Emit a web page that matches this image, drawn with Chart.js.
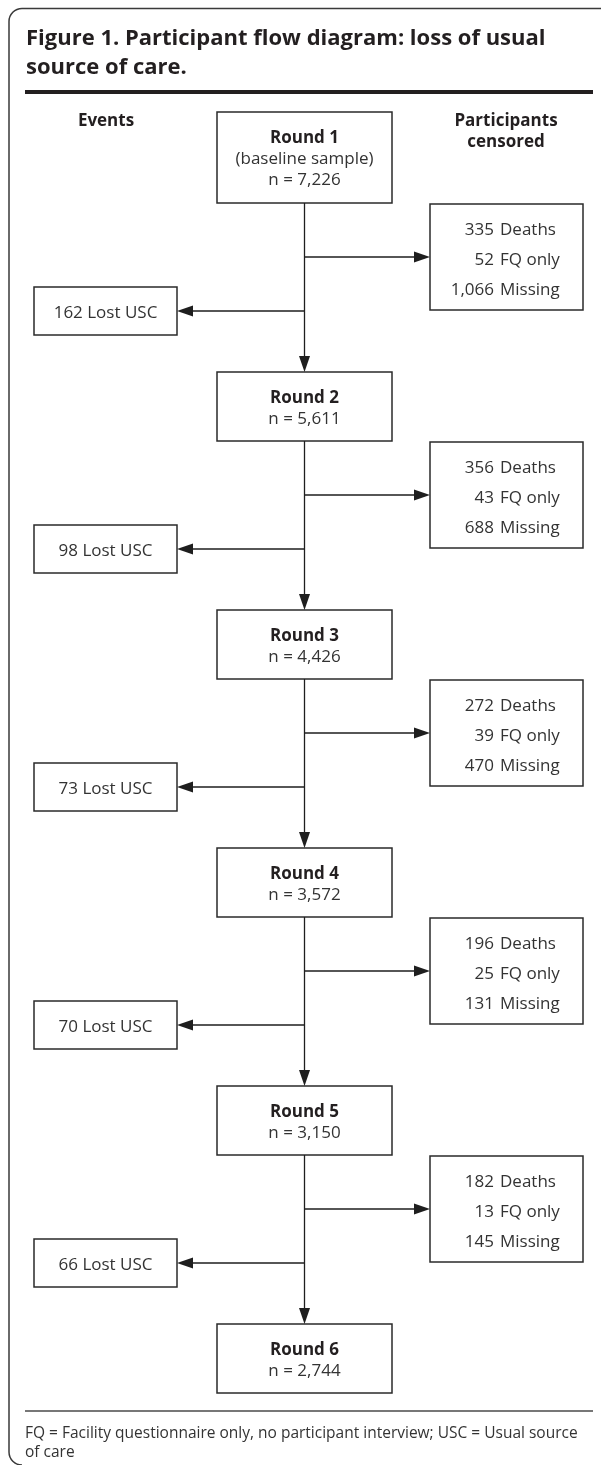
<!DOCTYPE html>
<html>
<head>
<meta charset="utf-8">
<script src="https://cdn.jsdelivr.net/npm/chart.js@4.4.0/dist/chart.umd.min.js"></script>
<style>
  html, body { margin: 0; padding: 0; background: #fff; }
  #wrap { width: 601px; height: 1465px; }
</style>
</head>
<body>
<div id="wrap"><canvas id="flow" width="601" height="1465"></canvas></div>
<script>
// flow data, one entry per round / per transition between rounds
const roundLabels = ['Round 1', 'Round 2', 'Round 3', 'Round 4', 'Round 5', 'Round 6'];
const roundNotes = ['(baseline sample)', '', '', '', '', ''];
const remaining = [7226, 5611, 4426, 3572, 3150, 2744];
const deaths = [335, 356, 272, 196, 182];
const fqOnly = [52, 43, 39, 25, 13];
const missing = [1066, 688, 470, 131, 145];
const lostUSC = [162, 98, 73, 70, 66];

const titleLines = ['Figure 1. Participant flow diagram: loss of usual', 'source of care.'];
const footLines = ['FQ = Facility questionnaire only, no participant interview; USC = Usual source', 'of care'];

const FONT = "'Open Sans', 'Noto Sans', sans-serif";
const INK = '#231f20';
const TEXT = '#333';

const fmt = v => v.toLocaleString('en-US');

// vertical layout (in scale units = page pixels)
const roundTop = i => i === 0 ? 112 : 372 + (i - 1) * 238;
const roundBottom = i => i === 0 ? 203 : roundTop(i) + 69;

const COL = { mid: 304.5, boxL: 217, boxR: 392, lostL: 34, lostR: 177, cenL: 430, cenR: 583 };

function arrowHead(ctx, x, y, dir) {
  // dir: 'down' | 'left' | 'right'; (x,y) is the tip
  const len = 16, half = 5.5;
  ctx.beginPath();
  if (dir === 'down') {
    ctx.moveTo(x, y); ctx.lineTo(x - half, y - len); ctx.lineTo(x + half, y - len);
  } else if (dir === 'left') {
    ctx.moveTo(x, y); ctx.lineTo(x + len, y - half); ctx.lineTo(x + len, y + half);
  } else {
    ctx.moveTo(x, y); ctx.lineTo(x - len, y - half); ctx.lineTo(x - len, y + half);
  }
  ctx.closePath();
  ctx.fill();
}

const flowPlugin = {
  id: 'flow',
  afterDraw(chart) {
    const ctx = chart.ctx;
    const sx = chart.scales.x, sy = chart.scales.y;
    const px = v => sx.getPixelForValue(v);
    const py = v => sy.getPixelForValue(v);

    ctx.save();

    // frame with rounded top-left / bottom-left corners
    const r = 13;
    ctx.strokeStyle = '#3a3a3a';
    ctx.lineWidth = 1.5;
    ctx.beginPath();
    ctx.moveTo(px(601), py(8.5));
    ctx.lineTo(px(9 + r), py(8.5));
    ctx.arcTo(px(9), py(8.5), px(9), py(8.5 + r), r);
    ctx.lineTo(px(9), py(1452));
    ctx.arcTo(px(9), py(1465), px(9 + r), py(1465), r);
    ctx.stroke();

    // title
    ctx.fillStyle = INK;
    ctx.textBaseline = 'alphabetic';
    ctx.textAlign = 'left';
    ctx.font = 'bold 22px ' + FONT;
    ctx.fillText(titleLines[0], px(26), py(45));
    ctx.fillText(titleLines[1], px(26), py(74));

    // heavy rule under title
    ctx.strokeStyle = INK;
    ctx.lineWidth = 4;
    ctx.beginPath();
    ctx.moveTo(px(25), py(92));
    ctx.lineTo(px(593), py(92));
    ctx.stroke();

    // column headings
    ctx.font = 'bold 17px ' + FONT;
    ctx.textAlign = 'center';
    ctx.fillText('Events', px(106), py(126));
    ctx.fillText('Participants', px(506), py(126));
    ctx.fillText('censored', px(506), py(147));

    // round boxes
    roundLabels.forEach((lab, i) => {
      const t = roundTop(i), b = roundBottom(i);
      ctx.strokeStyle = '#2a2a2a';
      ctx.lineWidth = 1.5;
      ctx.strokeRect(px(COL.boxL), py(t), px(COL.boxR) - px(COL.boxL), py(b) - py(t));
      ctx.fillStyle = INK;
      ctx.textAlign = 'center';
      ctx.font = 'bold 17px ' + FONT;
      ctx.fillText(lab, px(COL.mid), py(t + 31));
      ctx.fillStyle = TEXT;
      ctx.font = '17px ' + FONT;
      if (roundNotes[i]) {
        ctx.fillText(roundNotes[i], px(COL.mid), py(t + 52));
        ctx.fillText('n = ' + fmt(remaining[i]), px(COL.mid), py(t + 73));
      } else {
        ctx.fillText('n = ' + fmt(remaining[i]), px(COL.mid), py(t + 52));
      }
    });

    // transitions
    deaths.forEach((d, i) => {
      const B = roundBottom(i);
      const next = roundTop(i + 1);
      ctx.strokeStyle = '#1e1e1e';
      ctx.fillStyle = '#1e1e1e';
      ctx.lineWidth = 1.3;

      // main vertical connector
      ctx.beginPath();
      ctx.moveTo(px(COL.mid), py(B));
      ctx.lineTo(px(COL.mid), py(next) - 10);
      ctx.stroke();
      arrowHead(ctx, px(COL.mid), py(next), 'down');

      // right branch to censored box
      const cy = B + 54;
      ctx.beginPath();
      ctx.moveTo(px(COL.mid), py(cy));
      ctx.lineTo(px(COL.cenL) - 10, py(cy));
      ctx.stroke();
      arrowHead(ctx, px(COL.cenL), py(cy), 'right');

      // left branch to lost USC box
      const ly = B + 108;
      ctx.beginPath();
      ctx.moveTo(px(COL.mid), py(ly));
      ctx.lineTo(px(COL.lostR) + 10, py(ly));
      ctx.stroke();
      arrowHead(ctx, px(COL.lostR), py(ly), 'left');

      // censored box
      ctx.strokeStyle = '#2a2a2a';
      ctx.lineWidth = 1.5;
      const ct = B + 1, cb = B + 107;
      ctx.strokeRect(px(COL.cenL), py(ct), px(COL.cenR) - px(COL.cenL), py(cb) - py(ct));
      ctx.fillStyle = TEXT;
      ctx.font = '17px ' + FONT;
      const rows = [[deaths[i], 'Deaths'], [fqOnly[i], 'FQ only'], [missing[i], 'Missing']];
      rows.forEach((row, k) => {
        ctx.textAlign = 'right';
        ctx.fillText(fmt(row[0]), px(494), py(ct + 31 + k * 30));
        ctx.textAlign = 'left';
        ctx.fillText(row[1], px(500), py(ct + 31 + k * 30));
      });

      // lost USC box
      const lt = B + 84, lb = B + 132;
      ctx.strokeRect(px(COL.lostL), py(lt), px(COL.lostR) - px(COL.lostL), py(lb) - py(lt));
      ctx.textAlign = 'center';
      ctx.fillText(fmt(lostUSC[i]) + ' Lost USC', px((COL.lostL + COL.lostR) / 2), py(lt + 31));
    });

    // footer rule and note
    ctx.strokeStyle = '#777';
    ctx.lineWidth = 2;
    ctx.beginPath();
    ctx.moveTo(px(25), py(1411));
    ctx.lineTo(px(593), py(1411));
    ctx.stroke();

    ctx.fillStyle = '#333';
    ctx.textAlign = 'left';
    ctx.font = '15.5px ' + FONT;
    ctx.fillText(footLines[0], px(25), py(1438));
    ctx.fillText(footLines[1], px(25), py(1457));

    ctx.restore();
  }
};

const nodes = remaining.map((n, i) => ({ x: COL.mid, y: (roundTop(i) + roundBottom(i)) / 2 }));

new Chart(document.getElementById('flow').getContext('2d'), {
  type: 'scatter',
  data: { datasets: [{ data: nodes, pointRadius: 0, showLine: false }] },
  options: {
    responsive: false,
    animation: false,
    devicePixelRatio: 1,
    events: [],
    layout: { padding: 0 },
    plugins: { legend: { display: false }, tooltip: { enabled: false }, title: { display: false } },
    scales: {
      x: { type: 'linear', min: 0, max: 601, display: false },
      y: { type: 'linear', min: 0, max: 1465, reverse: true, display: false }
    }
  },
  plugins: [flowPlugin]
});
</script>
</body>
</html>
